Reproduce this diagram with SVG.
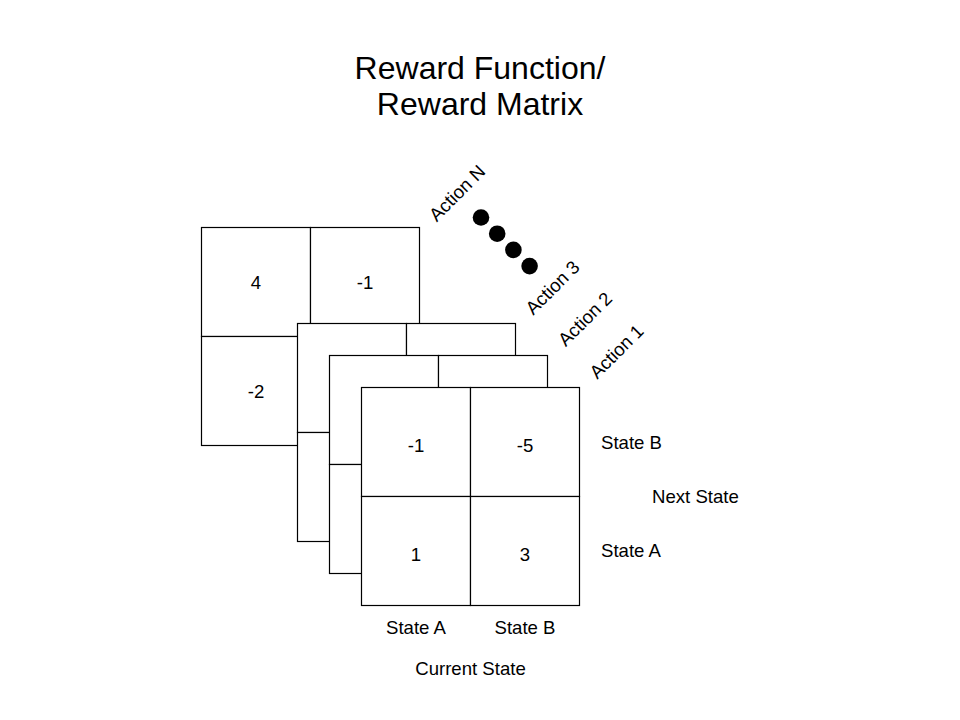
<svg xmlns="http://www.w3.org/2000/svg" width="960" height="720" viewBox="0 0 960 720">
<style>
.cell{fill:#ffffff;stroke:#000000;stroke-width:1.2}
.t{font-family:"Liberation Sans",Arial,sans-serif;font-size:18.6px;fill:#000000}
.m{text-anchor:middle}
.title{font-family:"Liberation Sans",Arial,sans-serif;font-size:32px;fill:#000000;text-anchor:middle}
.dot{fill:#000000}
</style>
<rect width="960" height="720" fill="#ffffff"/>
<g id="title">
<text class="title" x="480" y="79">Reward Function/</text>
<text class="title" x="480" y="115">Reward Matrix</text>
</g>
<g id="matrix-action-n">
<rect class="cell" x="201.5" y="227.5" width="109" height="109"/>
<rect class="cell" x="310.5" y="227.5" width="109" height="109"/>
<rect class="cell" x="201.5" y="336.5" width="109" height="109"/>
<rect class="cell" x="310.5" y="336.5" width="109" height="109"/>
<text class="t m" x="256" y="289">4</text>
<text class="t m" x="365" y="289">-1</text>
<text class="t m" x="256" y="398">-2</text>
</g>
<g id="matrix-action-2">
<rect class="cell" x="297.5" y="323.5" width="109" height="109"/>
<rect class="cell" x="406.5" y="323.5" width="109" height="109"/>
<rect class="cell" x="297.5" y="432.5" width="109" height="109"/>
<rect class="cell" x="406.5" y="432.5" width="109" height="109"/>
</g>
<g id="matrix-action-1b">
<rect class="cell" x="329.5" y="355.5" width="109" height="109"/>
<rect class="cell" x="438.5" y="355.5" width="109" height="109"/>
<rect class="cell" x="329.5" y="464.5" width="109" height="109"/>
<rect class="cell" x="438.5" y="464.5" width="109" height="109"/>
</g>
<g id="matrix-front">
<rect class="cell" x="361.5" y="387.5" width="109" height="109"/>
<rect class="cell" x="470.5" y="387.5" width="109" height="109"/>
<rect class="cell" x="361.5" y="496.5" width="109" height="109"/>
<rect class="cell" x="470.5" y="496.5" width="109" height="109"/>
<text class="t m" x="416" y="452">-1</text>
<text class="t m" x="525" y="452">-5</text>
<text class="t m" x="416" y="561">1</text>
<text class="t m" x="525" y="561">3</text>
</g>
<g id="dots">
<circle class="dot" cx="481" cy="217.5" r="8.3"/>
<circle class="dot" cx="497.2" cy="233.7" r="8.3"/>
<circle class="dot" cx="513.4" cy="249.9" r="8.3"/>
<circle class="dot" cx="529.6" cy="266.1" r="8.3"/>
</g>
<g id="action-labels">
<text class="t m" x="457" y="199.5" transform="rotate(-45 457 193)">Action N</text>
<text class="t m" x="552.5" y="294" transform="rotate(-45 552.5 287.5)">Action 3</text>
<text class="t m" x="585" y="325.5" transform="rotate(-45 585 319)">Action 2</text>
<text class="t m" x="616.5" y="358" transform="rotate(-45 616.5 351.5)">Action 1</text>
</g>
<g id="state-labels">
<text class="t" x="601" y="449">State B</text>
<text class="t" x="652" y="503">Next State</text>
<text class="t" x="601" y="557">State A</text>
<text class="t m" x="416" y="634">State A</text>
<text class="t m" x="525" y="634">State B</text>
<text class="t m" x="470.5" y="675">Current State</text>
</g>
<g id="connectors"></g>
</svg>
